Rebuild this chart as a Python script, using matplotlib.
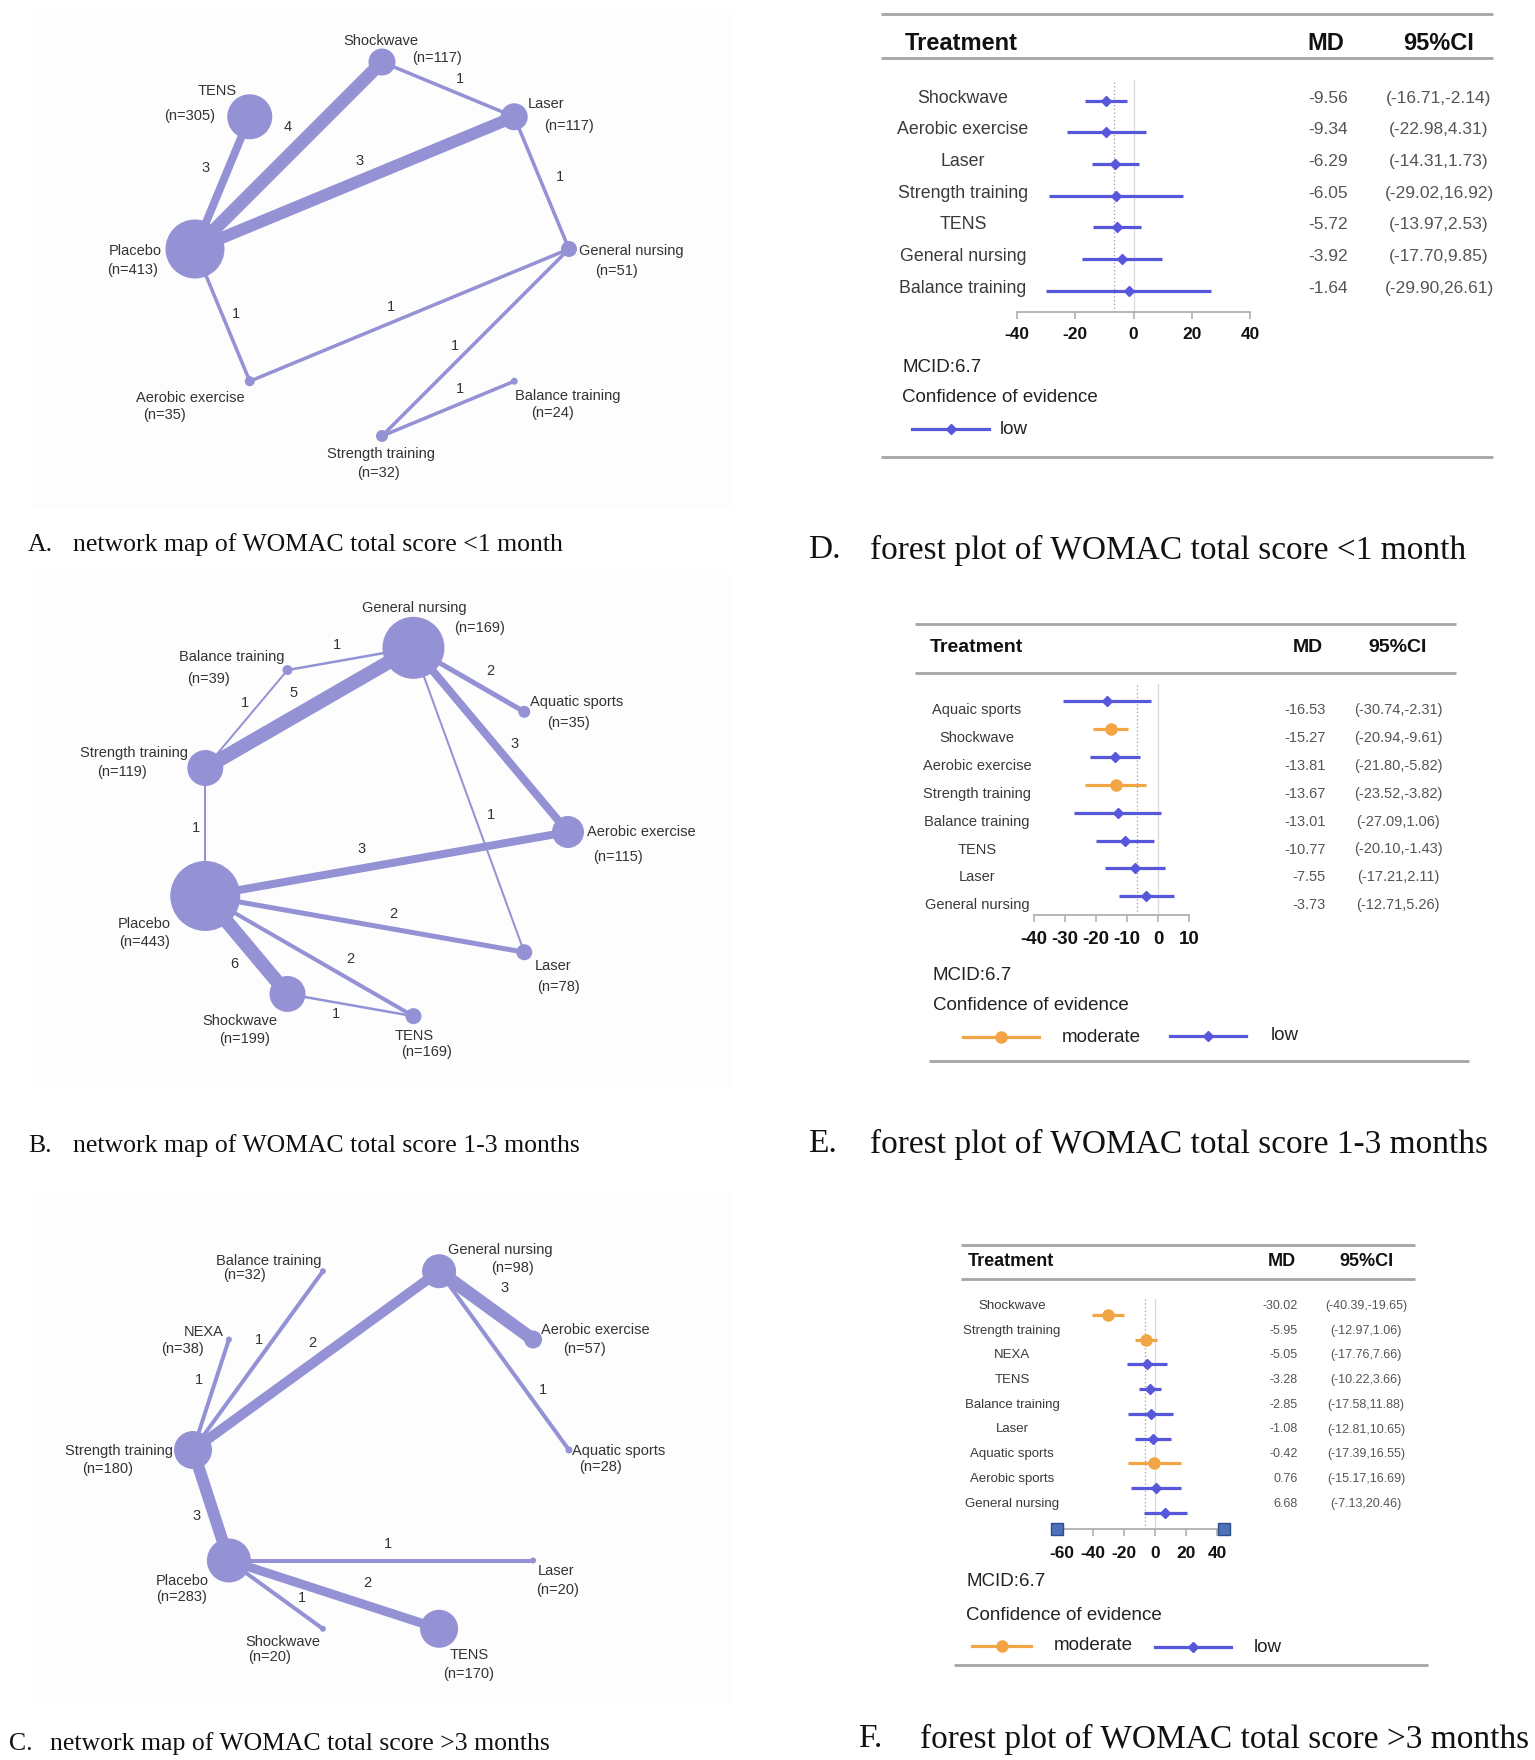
import matplotlib
matplotlib.use('Agg')
import matplotlib.pyplot as plt
from matplotlib.patches import Circle, Rectangle
import numpy as np

# ---------------- DATA ----------------
# Network A (<1 month)
A_ring = ['General nursing', 'Laser', 'Shockwave', 'TENS', 'Placebo',
          'Aerobic exercise', 'Strength training', 'Balance training']
A_n = [51, 117, 117, 305, 413, 35, 32, 24]
A_from = ['Placebo', 'Placebo', 'Placebo', 'Shockwave', 'Laser', 'Placebo',
          'Aerobic exercise', 'General nursing', 'Strength training']
A_to = ['TENS', 'Shockwave', 'Laser', 'Laser', 'General nursing', 'Aerobic exercise',
        'General nursing', 'Strength training', 'Balance training']
A_k = [3, 4, 3, 1, 1, 1, 1, 1, 1]

# Network B (1-3 months)
B_ring = ['Aerobic exercise', 'Aquatic sports', 'General nursing', 'Balance training',
          'Strength training', 'Placebo', 'Shockwave', 'TENS', 'Laser']
B_n = [115, 35, 169, 39, 119, 443, 199, 169, 78]
B_from = ['General nursing', 'General nursing', 'General nursing', 'General nursing',
          'General nursing', 'Balance training', 'Strength training', 'Placebo',
          'Placebo', 'Placebo', 'Placebo', 'Shockwave']
B_to = ['Balance training', 'Strength training', 'Aquatic sports', 'Aerobic exercise',
        'Laser', 'Strength training', 'Placebo', 'Aerobic exercise', 'Laser',
        'Shockwave', 'TENS', 'TENS']
B_k = [1, 5, 2, 3, 1, 1, 1, 3, 2, 6, 2, 1]

# Network C (>3 months)
C_ring = ['Aquatic sports', 'Aerobic exercise', 'General nursing', 'Balance training',
          'NEXA', 'Strength training', 'Placebo', 'Shockwave', 'TENS', 'Laser']
C_n = [28, 57, 98, 32, 38, 180, 283, 20, 170, 20]
C_from = ['Strength training', 'Strength training', 'Strength training',
          'General nursing', 'General nursing', 'Strength training', 'Placebo',
          'Placebo', 'Placebo']
C_to = ['NEXA', 'Balance training', 'General nursing', 'Aerobic exercise',
        'Aquatic sports', 'Placebo', 'Laser', 'TENS', 'Shockwave']
C_k = [1, 1, 2, 3, 1, 3, 1, 2, 1]

# Forest D (<1 month)
D_treat = ['Shockwave', 'Aerobic exercise', 'Laser', 'Strength training', 'TENS',
           'General nursing', 'Balance training']
D_md = [-9.56, -9.34, -6.29, -6.05, -5.72, -3.92, -1.64]
D_lo = [-16.71, -22.98, -14.31, -29.02, -13.97, -17.70, -29.90]
D_hi = [-2.14, 4.31, 1.73, 16.92, 2.53, 9.85, 26.61]
D_cert = ['low'] * 7
D_ticks = [-40, -20, 0, 20, 40]

# Forest E (1-3 months)
E_treat = ['Aquaic sports', 'Shockwave', 'Aerobic exercise', 'Strength training',
           'Balance training', 'TENS', 'Laser', 'General nursing']
E_md = [-16.53, -15.27, -13.81, -13.67, -13.01, -10.77, -7.55, -3.73]
E_lo = [-30.74, -20.94, -21.80, -23.52, -27.09, -20.10, -17.21, -12.71]
E_hi = [-2.31, -9.61, -5.82, -3.82, 1.06, -1.43, 2.11, 5.26]
E_cert = ['low', 'moderate', 'low', 'moderate', 'low', 'low', 'low', 'low']
E_ticks = [-40, -30, -20, -10, 0, 10]

# Forest F (>3 months)
F_treat = ['Shockwave', 'Strength training', 'NEXA', 'TENS', 'Balance training',
           'Laser', 'Aquatic sports', 'Aerobic sports', 'General nursing']
F_md = [-30.02, -5.95, -5.05, -3.28, -2.85, -1.08, -0.42, 0.76, 6.68]
F_lo = [-40.39, -12.97, -17.76, -10.22, -17.58, -12.81, -17.39, -15.17, -7.13]
F_hi = [-19.65, 1.06, 7.66, 3.66, 11.88, 10.65, 16.55, 16.69, 20.46]
F_cert = ['moderate', 'moderate', 'low', 'low', 'low', 'low', 'moderate', 'low', 'low']
F_ticks = [-60, -40, -20, 0, 20, 40]

MCID = 6.7

# ---------------- STYLE / LAYOUT ----------------
W, H = 1535, 1760
NODE_C = '#9492d4'
CERT_C = {'low': '#5757dc', 'moderate': '#f3a445'}
CERT_M = {'low': ('D', 5.5), 'moderate': ('o', 8)}
NET_FONT = ['Liberation Sans', 'DejaVu Sans']
SANS = ['Liberation Sans', 'DejaVu Sans']
SERIF = ['Liberation Serif', 'DejaVu Serif']
PX2PT = 0.72

A_layout = dict(
    center=(382, 249), R=187, start=0,
    radius=[8, 13.5, 13.5, 22.5, 29.5, 5, 6, 3.5],
    ewidth=[8, 13, 12, 3.5, 3.5, 3.5, 3.5, 3.5, 3.5],
    elabel=[(206, 168), (288, 127), (360, 161), (460, 79), (560, 177),
            (236, 314), (391, 307), (455, 346), (460, 389)],
    name_pos=[(631, 251), (546, 104), (381, 41), (217, 91), (135, 251),
              (190, 398), (381, 454), (568, 396)],
    n_pos=[(617, 271), (569, 126), (437, 58), (190, 116), (133, 270),
           (164, 415), (378, 473), (552, 413)],
    box=(31, 10, 732, 508))

B_layout = dict(
    center=(381, 832), R=187, start=0,
    radius=[16, 6, 31, 5, 18, 35, 18, 8, 8],
    ewidth=[2.5, 14, 5, 8, 2, 2, 2, 8, 5, 14, 4, 2.5],
    elabel=[(337, 645), (294, 693), (490, 671), (515, 744), (491, 815), (245, 703),
            (196, 828), (362, 849), (393, 914), (234, 964), (350, 959), (336, 1014)],
    name_pos=[(641, 832), (577, 702), (414, 608), (232, 657), (134, 753),
              (144, 924), (240, 1021), (414, 1036), (553, 966)],
    n_pos=[(618, 857), (569, 723), (480, 628), (209, 679), (122, 772),
           (145, 942), (245, 1039), (427, 1052), (558, 987)],
    box=(31, 574, 732, 1089))

C_layout = dict(
    center=(381, 1450), R=188, start=0,
    radius=[3.5, 9, 17, 3, 3, 19, 22, 3, 19, 3],
    ewidth=[4, 4, 10, 13, 4, 12, 4, 9, 4],
    elabel=[(199, 1380), (259, 1340), (312, 1343), (505, 1288), (543, 1390),
            (197, 1516), (388, 1544), (367, 1583), (302, 1598)],
    name_pos=[(619, 1451), (595, 1330), (500, 1250), (269, 1261), (204, 1332),
              (119, 1451), (182, 1581), (283, 1642), (469, 1655), (556, 1571)],
    n_pos=[(600, 1467), (584, 1349), (512, 1268), (245, 1275), (183, 1349),
           (108, 1469), (182, 1597), (270, 1657), (469, 1674), (558, 1590)],
    box=(31, 1191, 732, 1705))

fig = plt.figure(figsize=(W / 100, H / 100), dpi=100)
bg = fig.add_axes([0, 0, 1, 1])
bg.set_xlim(0, W)
bg.set_ylim(H, 0)
bg.axis('off')


def txt(x, y, s, size, ha='center', va='center', family=SANS, color='#222222', **kw):
    bg.text(x, y, s, fontsize=size, ha=ha, va=va, family=family, color=color, **kw)


def network(ring, n, efrom, eto, ek, lay):
    cx, cy = lay['center']
    R = lay['R']
    step = 2 * np.pi / len(ring)
    pos = {}
    for i, name in enumerate(ring):
        th = np.deg2rad(lay['start']) + i * step
        pos[name] = (cx + R * np.cos(th), cy - R * np.sin(th))
    x0, y0, x1, y1 = lay['box']
    bg.add_patch(Rectangle((x0, y0), x1 - x0, y1 - y0, facecolor='#fdfdfd',
                           edgecolor='none', zorder=0))
    for a, b, k, w, lp in zip(efrom, eto, ek, lay['ewidth'], lay['elabel']):
        (xa, ya), (xb, yb) = pos[a], pos[b]
        bg.plot([xa, xb], [ya, yb], color=NODE_C, lw=w * PX2PT,
                solid_capstyle='round', zorder=2)
        txt(lp[0], lp[1], str(k), 10.5, family=NET_FONT, color='#333333', zorder=5)
    for i, name in enumerate(ring):
        bg.add_patch(Circle(pos[name], lay['radius'][i], facecolor=NODE_C,
                            edgecolor='none', zorder=3))
        npx, npy = lay['name_pos'][i]
        txt(npx, npy, name, 10.5, family=NET_FONT, color='#333333', zorder=5)
        nx, ny = lay['n_pos'][i]
        txt(nx, ny, f'(n={n[i]})', 10.5, family=NET_FONT, color='#333333', zorder=5)


network(A_ring, A_n, A_from, A_to, A_k, A_layout)
network(B_ring, B_n, B_from, B_to, B_k, B_layout)
network(C_ring, C_n, C_from, C_to, C_k, C_layout)


def forest(treat, md, lo, hi, cert, ticks, L):
    x0, x1 = L['axpx']
    ytop, yax = L['ytop'], L['yaxis']
    ax = fig.add_axes([x0 / W, 1 - yax / H, (x1 - x0) / W, (yax - ytop) / H])
    ax.set_xlim(*L['xlim'])
    ax.set_ylim(yax, ytop)
    ax.patch.set_alpha(0)
    for s in ['top', 'right', 'left']:
        ax.spines[s].set_visible(False)
    ax.spines['bottom'].set_color('#b0b0b0')
    ax.spines['bottom'].set_linewidth(1.3)
    ax.set_yticks([])
    ax.set_xticks(ticks)
    ax.set_xticklabels([str(t) for t in ticks], fontweight='bold', family=SANS,
                       fontsize=L['tick_fs'], color='#111111')
    ax.tick_params(axis='x', direction='out', length=5, width=1.2, color='#b0b0b0',
                   pad=L['pad'])
    ax.axvline(0, color='#dcdcdc', lw=1.0, zorder=1)
    ax.axvline(-MCID, color='#9a9a9a', lw=0.9, ls=(0, (1, 2)), zorder=1)
    if L.get('ends'):
        xl = ax.get_xlim()
        ax.plot(list(xl), [yax, yax], 's', ms=8, mfc='#4f71b8', mec='#2d4c8c',
                mew=1, clip_on=False, zorder=6)
    ys = L['row0'] + L['step'] * np.arange(len(treat))
    for i in range(len(treat)):
        c = CERT_C[cert[i]]
        m, ms = CERT_M[cert[i]]
        ax.hlines(ys[i], lo[i], hi[i], color=c, lw=2.3, zorder=3)
        ax.plot(md[i], ys[i], marker=m, ms=ms, color=c, zorder=4)
        ty = ys[i] + L['text_dy']
        txt(L['label_x'], ty, treat[i], L['lab_fs'], color='#3a3a3a')
        txt(L['md_x'], ty, f'{md[i]:.2f}', L['val_fs'], ha='right', color='#555555')
        txt(L['ci_x'], ty, f'({lo[i]:.2f},{hi[i]:.2f})', L['val_fs'], color='#555555')
    # header & rules
    rx0, rx1 = L['rule_x']
    for ry in L['rules'][:2]:
        bg.plot([rx0, rx1], [ry, ry], color='#a5a5a5', lw=2.0, solid_capstyle='butt')
    bx0, bx1 = L['bottom_x']
    bg.plot([bx0, bx1], [L['rules'][2]] * 2, color='#a5a5a5', lw=2.0, solid_capstyle='butt')
    hy = L['head_y']
    txt(L['head_x'], hy, 'Treatment', L['head_fs'], ha='left', weight='bold', color='#111111')
    txt(L['md_head_x'], hy, 'MD', L['head_fs'], weight='bold', color='#111111')
    txt(L['ci_x'], hy, '95%CI', L['head_fs'], weight='bold', color='#111111')
    mx, my = L['mcid']
    txt(mx, my, f'MCID:{MCID}', 13.5, ha='left', color='#222222')
    cx_, cy_ = L['conf']
    txt(cx_, cy_, 'Confidence of evidence', 13.5, ha='left', color='#222222')
    for (lx0, lx1, ly, tx), key in zip(L['legend'], L['legend_keys']):
        c = CERT_C[key]
        m, ms = CERT_M[key]
        bg.plot([lx0, lx1], [ly, ly], color=c, lw=2.3)
        bg.plot([(lx0 + lx1) / 2], [ly], marker=m, ms=ms, color=c)
        txt(tx, ly, key, 13.5, ha='left', color='#222222')


D_L = dict(axpx=(1017, 1250), xlim=(-40, 40), ytop=80, yaxis=312, row0=100.6,
           step=31.7, text_dy=-2.5, label_x=963, md_x=1348, ci_x=1439,
           lab_fs=12.8, val_fs=12.5, head_fs=17, tick_fs=12.5, pad=6,
           rule_x=(881, 1493), rules=(14, 58.5, 457), bottom_x=(881, 1493),
           head_x=905, head_y=44, md_head_x=1326, mcid=(902, 367), conf=(902, 398),
           legend=[(912, 989, 429, 1000)], legend_keys=['low'])
E_L = dict(axpx=(1034, 1189), xlim=(-40, 10), ytop=684, yaxis=915, row0=701,
           step=27.9, text_dy=9, label_x=977, md_x=1326, ci_x=1398,
           lab_fs=10.5, val_fs=10.5, head_fs=14, tick_fs=13.5, pad=6.5,
           rule_x=(915, 1456), rules=(624, 673, 1061), bottom_x=(929, 1469),
           head_x=930, head_y=648, md_head_x=1308, mcid=(933, 975), conf=(933, 1006),
           legend=[(963, 1039, 1037, 1062), (1170, 1246, 1036, 1271)],
           legend_keys=['moderate', 'low'])
F_L = dict(axpx=(1056.5, 1223.6), xlim=(-63.5, 44.3), ytop=1299, yaxis=1529, row0=1315,
           step=24.7, text_dy=-9, label_x=1012, md_x=1298, ci_x=1366,
           lab_fs=9.5, val_fs=9, head_fs=13, tick_fs=12.5, pad=7, ends=True,
           rule_x=(961, 1415), rules=(1245, 1279, 1665), bottom_x=(954, 1428),
           head_x=968, head_y=1261, md_head_x=1282, mcid=(966, 1581), conf=(966, 1616),
           legend=[(972, 1031, 1646, 1054), (1155, 1231, 1647, 1254)],
           legend_keys=['moderate', 'low'])

forest(D_treat, D_md, D_lo, D_hi, D_cert, D_ticks, D_L)
forest(E_treat, E_md, E_lo, E_hi, E_cert, E_ticks, E_L)
forest(F_treat, F_md, F_lo, F_hi, F_cert, F_ticks, F_L)

# ---------------- CAPTIONS ----------------
caps_left = [('A.', 'network map of WOMAC total score <1 month', 28, 73, 545),
             ('B.', 'network map of WOMAC total score 1-3 months', 28, 73, 1146),
             ('C.', 'network map of WOMAC total score >3 months', 9, 50, 1744)]
for lab, s, xl, xs, y in caps_left:
    txt(xl, y, lab, 18.5, ha='left', family=SERIF, color='#111111')
    txt(xs, y, s, 18.5, ha='left', family=SERIF, color='#111111')
caps_right = [('D.', 'forest plot of WOMAC total score <1 month', 808, 870, 550),
              ('E.', 'forest plot of WOMAC total score 1-3 months', 808, 870, 1144),
              ('F.', 'forest plot of WOMAC total score >3 months', 858, 920, 1739)]
for lab, s, xl, xs, y in caps_right:
    txt(xl, y, lab, 24, ha='left', family=SERIF, color='#111111')
    txt(xs, y, s, 24, ha='left', family=SERIF, color='#111111')

fig.savefig('out.png', dpi=100, facecolor='white')
